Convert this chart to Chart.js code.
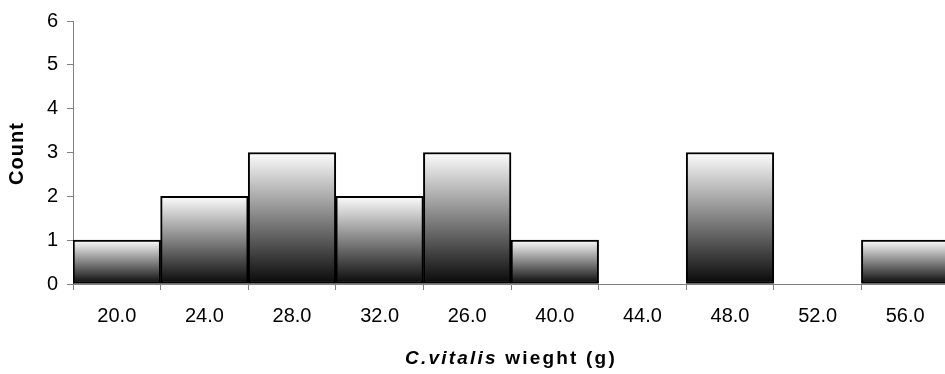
<!DOCTYPE html>
<html>
<head>
<meta charset="utf-8">
<script src="https://cdn.jsdelivr.net/npm/chart.js@4"></script>
<style>
  html, body { margin: 0; padding: 0; background: #ffffff; overflow: hidden; }
  canvas { display: block; }
</style>
</head>
<body>
<canvas id="hist" width="949" height="374"></canvas>
<script>
// Weight classes (as labelled) and number of animals in each class
const binLabels = ['20.0', '24.0', '28.0', '32.0', '26.0', '40.0', '44.0', '48.0', '52.0', '56.0'];
const counts = [1, 2, 3, 2, 3, 1, 0, 3, 0, 1];
const yTickValues = [0, 1, 2, 3, 4, 5, 6];

const yTitle = 'Count';
const xTitleSpecies = 'C.vitalis';
const xTitleRest = ' wieght (g)';

const FONT = '"Liberation Sans", Arial, Helvetica, sans-serif';
const AXIS_GREY = '#808080';

// White-to-black fill running down each individual bar
function barFill(context) {
  const chart = context.chart;
  if (!chart.chartArea || !chart.scales.y) return 'rgba(0,0,0,0)';
  const v = context.raw;
  if (!v) return 'rgba(0,0,0,0)';
  const y = chart.scales.y;
  const top = y.getPixelForValue(v);
  const bottom = y.getPixelForValue(0);
  const g = chart.ctx.createLinearGradient(0, top, 0, bottom);
  g.addColorStop(0, '#fdfdfd');
  g.addColorStop(1, '#080808');
  return g;
}

// Axis titles; the x title mixes an italic species name with plain bold text
const axisTitles = {
  id: 'axisTitles',
  afterDraw(chart) {
    const ctx = chart.ctx;
    const area = chart.chartArea;
    ctx.save();
    ctx.fillStyle = '#000000';
    if ('letterSpacing' in ctx) ctx.letterSpacing = '2.2px';
    ctx.textBaseline = 'middle';
    ctx.textAlign = 'left';

    const italicFont = 'italic bold 19px ' + FONT;
    const boldFont = 'bold 19px ' + FONT;
    ctx.font = italicFont;
    const w1 = ctx.measureText(xTitleSpecies).width;
    ctx.font = boldFont;
    const w2 = ctx.measureText(xTitleRest).width;
    const cx = (area.left + area.right) / 2;
    const ty = 359;
    let x = cx - (w1 + w2) / 2;
    ctx.font = italicFont;
    ctx.fillText(xTitleSpecies, x, ty);
    ctx.font = boldFont;
    ctx.fillText(xTitleRest, x + w1, ty);

    if ('letterSpacing' in ctx) ctx.letterSpacing = '1px';
    ctx.font = 'bold 20px ' + FONT;
    ctx.translate(17, (area.top + area.bottom) / 2 + 1);
    ctx.rotate(-Math.PI / 2);
    ctx.textAlign = 'center';
    ctx.fillText(yTitle, 0, 0);
    ctx.restore();
  }
};

new Chart(document.getElementById('hist'), {
  type: 'bar',
  data: {
    labels: binLabels,
    datasets: [{
      data: counts,
      backgroundColor: barFill,
      borderColor: '#000000',
      borderWidth: (c) => (c.raw ? 2 : 0),
      borderSkipped: false,
      categoryPercentage: 1.0,
      barPercentage: 1.0
    }]
  },
  options: {
    responsive: false,
    animation: false,
    devicePixelRatio: 1,
    layout: { padding: { top: 20, right: 0, bottom: 0, left: 0 } },
    plugins: {
      legend: { display: false },
      tooltip: { enabled: false },
      title: { display: false }
    },
    scales: {
      x: {
        type: 'category',
        offset: true,
        grid: {
          offset: true,
          drawOnChartArea: false,
          drawTicks: true,
          tickLength: 6,
          color: AXIS_GREY,
          lineWidth: 1
        },
        border: { display: true, color: AXIS_GREY, width: 1 },
        ticks: {
          color: '#000000',
          font: { family: FONT, size: 20 },
          padding: 14,
          maxRotation: 0,
          autoSkip: false
        },
        afterFit(scale) { scale.height = 90; }
      },
      y: {
        min: yTickValues[0],
        max: yTickValues[yTickValues.length - 1],
        afterBuildTicks(scale) {
          scale.ticks = yTickValues.map(v => ({ value: v }));
        },
        grid: {
          drawOnChartArea: false,
          drawTicks: true,
          tickLength: 6,
          color: AXIS_GREY,
          lineWidth: 1
        },
        border: { display: true, color: AXIS_GREY, width: 1 },
        ticks: {
          color: '#000000',
          font: { family: FONT, size: 20 },
          padding: 9,
          callback: (v) => String(v)
        },
        afterFit(scale) { scale.width = 73; }
      }
    }
  },
  plugins: [axisTitles]
});
</script>
</body>
</html>
